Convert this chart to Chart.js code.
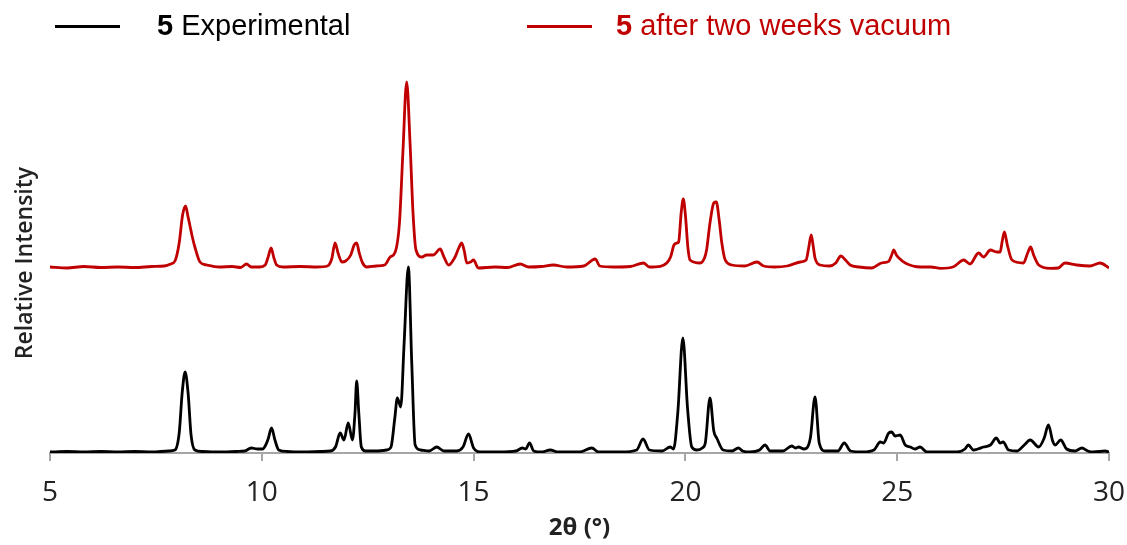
<!DOCTYPE html>
<html>
<head>
<meta charset="utf-8">
<script src="https://cdn.jsdelivr.net/npm/chart.js@4"></script>
<style>
    body { margin: 0; background: #fff; }
    #wrap { position: relative; width: 1127px; height: 545px; }
    .leyenda-linea { position: absolute; top: 25px; width: 65px; height: 3px; }
    .leyenda-texto { position: absolute; top: 10px; font: 29px "Liberation Sans", Arial, sans-serif; line-height: 30px; white-space: nowrap; }
    .leyenda-texto b { font-weight: bold; }
</style>
</head>
<body>
<div id="wrap">
    <canvas id="graficoPXRD" width="1127" height="545"></canvas>
    <div class="leyenda-linea" style="left:55px; background:#000;"></div>
    <div class="leyenda-texto" style="left:157px; color:#000;"><b>5</b> Experimental</div>
    <div class="leyenda-linea" style="left:527px; background:#c00000;"></div>
    <div class="leyenda-texto" style="left:616px; color:#c00000;"><b>5</b> after two weeks vacuum</div>
</div>
<script>
// 2θ (°) and intensity of the as-made sample
const thetaExp = [
    5.0, 5.4, 5.8, 6.2, 6.6, 7.0, 7.4, 7.8, 7.95, 8.05, 8.12, 8.19, 8.26, 8.33, 8.42, 8.6,
    9.0, 9.4, 9.6, 9.75, 9.9, 10.02, 10.08, 10.15, 10.23, 10.31, 10.4, 10.6, 11.0, 11.4,
    11.62, 11.74, 11.85, 11.94, 12.04, 12.14, 12.2, 12.24, 12.29, 12.35, 12.45, 12.7, 12.95,
    13.05, 13.14, 13.2, 13.28, 13.36, 13.46, 13.54, 13.62, 13.75, 13.95, 14.13, 14.3, 14.6,
    14.75, 14.88, 15.0, 15.15, 15.6, 16.0, 16.15, 16.23, 16.32, 16.42, 16.6, 16.81, 17.0,
    17.5, 17.79, 17.95, 18.5, 18.85, 19.0, 19.15, 19.45, 19.64, 19.72, 19.82, 19.94, 20.05,
    20.15, 20.27, 20.4, 20.47, 20.58, 20.67, 20.74, 20.89, 21.1, 21.25, 21.35, 21.53, 21.75,
    21.88, 22.0, 22.3, 22.51, 22.6, 22.67, 22.8, 22.95, 23.06, 23.16, 23.3, 23.6, 23.75,
    23.9, 24.2, 24.45, 24.6, 24.68, 24.8, 24.87, 24.95, 25.07, 25.19, 25.31, 25.42, 25.54,
    25.7, 26.0, 26.41, 26.6, 26.68, 26.8, 26.9, 27.04, 27.2, 27.34, 27.43, 27.5, 27.63,
    27.83, 28.0, 28.14, 28.34, 28.47, 28.57, 28.67, 28.73, 28.86, 29.0, 29.2, 29.36, 29.5,
    29.63, 29.91, 30.0
];
const intExp = [
    1, 1.5, 1, 1.5, 1, 1.5, 1, 2, 3, 20, 60, 81, 60, 18, 3, 1.5,
    1, 1.5, 2, 5, 4, 4, 7, 14, 25, 13, 3, 1.5, 1, 1.5,
    2, 6, 20, 13, 30, 13, 40, 72, 40, 6, 2, 2, 3,
    6, 35, 55, 46, 110, 186, 90, 8, 3, 2, 6, 2, 2,
    6, 19, 5, 1, 1, 2, 5, 4, 10, 2, 1, 3, 1,
    1, 5, 1, 1, 3, 14, 3, 2, 6, 4, 40, 115, 45,
    6, 3, 5, 10, 55, 22, 15, 3, 2, 5, 2, 1, 3,
    8, 2, 2, 7, 5, 6, 4, 15, 56, 10, 2, 2, 10,
    2, 1, 3, 11, 10, 20, 21, 17, 18, 8, 6, 4, 6,
    1, 1, 1, 4, 8, 3, 4, 6, 8, 15, 10, 11, 3,
    2, 8, 13, 6, 15, 28, 12, 8, 13, 4, 2, 5, 2,
    1, 2, 1
];

// 2θ (°) and intensity after two weeks under vacuum
const thetaVac = [
    5.0, 5.4, 5.8, 6.2, 6.6, 7.0, 7.4, 7.7, 7.85, 7.95, 8.05, 8.13, 8.2, 8.26, 8.31, 8.36,
    8.42, 8.54, 8.7, 9.0, 9.3, 9.5, 9.64, 9.75, 9.95, 10.08, 10.15, 10.22, 10.28, 10.35,
    10.5, 10.9, 11.3, 11.55, 11.65, 11.73, 11.8, 11.89, 11.98, 12.1, 12.18, 12.24, 12.3,
    12.38, 12.48, 12.7, 12.9, 13.03, 13.15, 13.25, 13.33, 13.42, 13.5, 13.57, 13.64, 13.78,
    13.89, 14.05, 14.21, 14.3, 14.41, 14.55, 14.65, 14.72, 14.78, 14.84, 14.93, 15.0, 15.11,
    15.5, 15.8, 16.1, 16.3, 16.6, 16.88, 17.2, 17.6, 17.87, 17.98, 18.3, 18.7, 19.01, 19.15,
    19.41, 19.56, 19.65, 19.73, 19.8, 19.84, 19.9, 19.95, 20.0, 20.06, 20.11, 20.35, 20.45,
    20.5, 20.58, 20.67, 20.73, 20.8, 20.86, 20.94, 21.1, 21.4, 21.69, 21.85, 22.1, 22.4,
    22.71, 22.85, 22.91, 22.97, 23.02, 23.06, 23.18, 23.4, 23.55, 23.67, 23.78, 23.89, 24.1,
    24.4, 24.63, 24.8, 24.87, 24.92, 24.98, 25.04, 25.19, 25.55, 25.8, 26.02, 26.33, 26.57,
    26.72, 26.92, 27.04, 27.2, 27.35, 27.43, 27.48, 27.53, 27.6, 27.71, 27.98, 28.08, 28.15,
    28.22, 28.34, 28.61, 28.8, 28.96, 29.24, 29.55, 29.79, 30.0
];
const intVac = [
    186, 185, 186.5, 185.5, 186, 185.5, 186.5, 187, 189, 192, 210, 238, 247, 236, 226, 216,
    206, 191, 188, 186, 186.5, 185.5, 189, 186, 186, 188, 196, 205, 196, 188,
    186, 186.5, 186, 187, 194, 210, 200, 191, 192, 198, 208, 210, 200,
    190, 186, 187, 188, 196, 201, 230, 300, 371, 310, 240, 203, 196,
    198, 198, 204, 196, 188, 195, 205, 210, 202, 190, 191, 193, 185,
    186, 185.5, 189, 186, 186.5, 188, 186, 187, 194, 187, 186, 186.5, 190, 186,
    186.7, 190, 196, 208, 210, 211, 240, 254, 238, 205, 193, 190, 195,
    203, 230, 250, 251, 232, 210, 193, 188, 187, 191, 187, 186, 187,
    191, 193, 205, 218, 206, 195, 188, 187, 190, 197, 193, 188, 186,
    185, 190, 191.6, 198, 203, 198, 195, 190, 186, 186, 184.7, 186.3, 193,
    189, 200, 196, 203, 201, 201, 212, 221, 208, 193, 190, 200, 206,
    198, 188, 184.7, 185, 190, 188, 187, 190, 185
];

const xTicks = [5, 10, 15, 20, 25, 30];
const ejeGris = '#a6a6a6';

function puntos(thetas, valores) {
    return thetas.map((t, i) => ({ x: t, y: valores[i] }));
}

const ctx = document.getElementById("graficoPXRD");

new Chart(ctx, {
    type: 'line',
    data: {
        datasets: [
            {
                label: '5 Experimental',
                data: puntos(thetaExp, intExp),
                borderColor: '#000000',
                borderWidth: 2.8,
                cubicInterpolationMode: 'monotone'
            },
            {
                label: '5 after two weeks vacuum',
                data: puntos(thetaVac, intVac),
                borderColor: '#c00000',
                borderWidth: 2.8,
                cubicInterpolationMode: 'monotone'
            }
        ]
    },
    options: {
        responsive: false,
        animation: false,
        layout: { padding: { top: 73, right: 18, left: 0, bottom: 0 } },
        elements: { point: { radius: 0 } },
        plugins: {
            legend: { display: false },
            tooltip: { enabled: false }
        },
        scales: {
            x: {
                type: 'linear',
                min: 5,
                max: 30,
                // the "30" label may hang past the plot edge, so no extra room for it
                afterFit: s => { s.height = 92; s.paddingLeft = 0; s.paddingRight = 0; },
                afterBuildTicks: s => { s.ticks = xTicks.map(v => ({ value: v })); },
                ticks: {
                    color: '#222',
                    padding: 15,
                    font: { family: 'Open Sans', size: 28 }
                },
                grid: {
                    drawOnChartArea: false,
                    tickLength: 8,
                    color: ejeGris,
                    lineWidth: 2
                },
                border: { color: ejeGris, width: 2 },
                title: {
                    display: true,
                    text: '2θ (°)',
                    color: '#222',
                    padding: { top: 0, bottom: 2 },
                    font: { family: 'Open Sans', size: 24, weight: 'bold' }
                }
            },
            y: {
                min: 0,
                max: 380,
                afterFit: s => { s.width = 50; },
                ticks: { display: false },
                grid: { display: false },
                border: { display: false },
                title: {
                    display: true,
                    text: 'Relative Intensity',
                    color: '#222',
                    padding: { top: 12, bottom: 0 },
                    font: { family: 'Open Sans', size: 23, weight: '600' }
                }
            }
        }
    }
});
</script>
</body>
</html>
